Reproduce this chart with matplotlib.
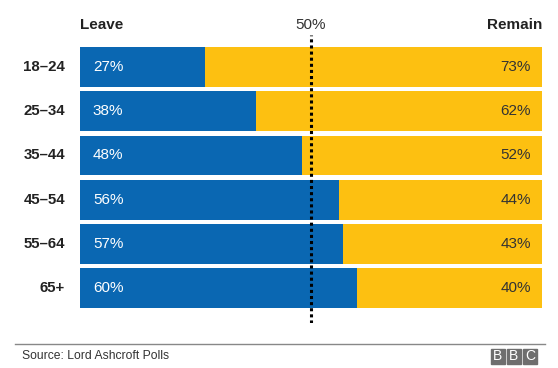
import matplotlib
matplotlib.use("Agg")
import matplotlib.pyplot as plt
from matplotlib.patches import Rectangle
from matplotlib.lines import Line2D

plt.rcParams['font.family'] = ['Liberation Sans', 'DejaVu Sans']

ages = ["18\u201324", "25\u201334", "35\u201344", "45\u201354", "55\u201364", "65+"]
leave = [27, 38, 48, 56, 57, 60]
remain = [73, 62, 52, 44, 43, 40]

blue = "#0a67b2"
yellow = "#fdc011"
W, H = 558, 368

fig = plt.figure(figsize=(W / 100, H / 100), dpi=100)
# axes spans bar area horizontally, dotted line vertically
ax = fig.add_axes([80 / W, 1 - 323 / H, 462 / W, 288 / H])
ax.set_xlim(0, 100)
ax.set_ylim(5.79, -0.724)
ax.axis("off")

rows = range(len(ages))
ax.barh(rows, leave, height=0.9, color=blue)
ax.barh(rows, remain, left=leave, height=0.9, color=yellow)
ax.axvline(50, color="black", lw=2.2, ls=(0, (1, 1)))

for i, (a, l, r) in enumerate(zip(ages, leave, remain)):
    ax.text(-3.2, i, a, ha="right", va="center", fontsize=10.8,
            fontweight="bold", color="#222222")
    ax.text(2.8, i, f"{l}%", ha="left", va="center", fontsize=11,
            color="white")
    ax.text(97.6, i, f"{r}%", ha="right", va="center", fontsize=11,
            color="#333333")

ax.text(0, -0.95, "Leave", ha="left", va="center", fontsize=11,
        fontweight="bold", color="#222222", clip_on=False)
ax.text(50, -0.95, "50%", ha="center", va="center", fontsize=11,
        color="#333333", clip_on=False)
ax.text(100, -0.95, "Remain", ha="right", va="center", fontsize=11,
        fontweight="bold", color="#222222", clip_on=False)

# footer
fig.add_artist(Line2D([15 / W, 545 / W], [1 - 344 / H, 1 - 344 / H],
                      color="#888888", lw=1))
fig.text(22 / W, 1 - 356 / H, "Source: Lord Ashcroft Polls", ha="left",
         va="center", fontsize=8.7, color="#333333")
for x0, ch in zip([491, 507, 523], "BBC"):
    fig.add_artist(Rectangle((x0 / W, 1 - 364 / H), 14 / W, 15 / H,
                             transform=fig.transFigure, color="#6e6e6e"))
    fig.text((x0 + 7) / W, 1 - 356.5 / H, ch, ha="center", va="center",
             fontsize=10, color="white")

fig.savefig("out.png", dpi=100)
